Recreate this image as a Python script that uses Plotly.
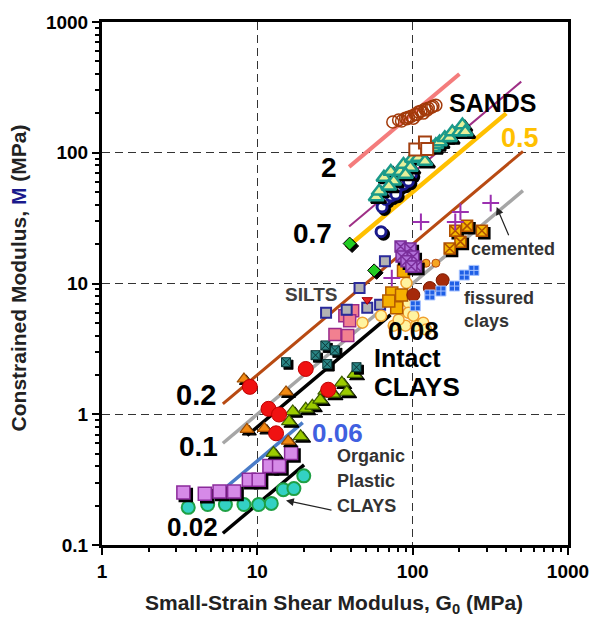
import math
import plotly.graph_objects as go

# ---------------- data ----------------
line_labels = ["2", "0.7", "0.5", "0.2", "0.1", "0.08", "0.06", "0.02"]
line_ratio = [2.0, 0.7, 0.5, 0.2, 0.1, 0.08, 0.044, 0.0205]
line_g0_start = [39, 39, 37.5, 6.0, 6.0, 8.6, 4.4, 6.0]
line_g0_end = [200, 500, 400, 513, 513, 72, 19.6, 20]

sand_g0 = [74.5, 81.2, 84.8, 89.9, 93.9, 98.1, 104, 109, 113, 120, 126, 132, 135, 141, 101, 117,
           92.0, 107, 124]
sand_m = [172, 178, 175, 184, 187, 190, 197, 205, 208, 215, 219, 223, 227, 231, 184, 201,
          182, 196, 212]

sandsq_g0 = [104, 120, 124]
sandsq_m = [106, 120, 107]

tealtri_g0 = [58.2, 60.8, 65.3, 72.3, 75.5, 83.6, 87.3, 96.7, 99.5, 109, 120, 135, 141, 149,
              161, 173, 180, 200, 209, 218, 70.2, 89.9]
tealtri_m = [45.8, 50.8, 64.8, 71.9, 60.5, 71.9, 81.3, 77.1, 90.2, 91.8, 85.6, 109, 115, 121,
             130, 130, 144, 144, 163, 144, 55.4, 68.3]

navy_g0 = [63.5, 67.3, 72.3, 77.8, 81.2, 87.3, 89.9, 98.1, 93.9, 62.6]
navy_m = [38.5, 44.0, 46.6, 48.2, 55.4, 57.4, 66.0, 68.3, 60.5, 24.9]

green_g0 = [39.3, 56.5]
green_m = [20.2, 12.6]

plus_g0 = [318, 113, 203, 188, 73.4]
plus_m = [41.2, 29.6, 35.3, 29.6, 11.0]

violetx_g0 = [83.6, 96.7, 101, 84.8, 91.2, 105, 98.1]
violetx_m = [19.2, 18.5, 16.1, 16.1, 14.8, 13.5, 13.5]

orangedot_g0 = [122, 141, 113]
orangedot_m = [14.3, 14.3, 13.8]

cemented_g0 = [188, 224, 279, 203, 173]
cemented_m = [25.3, 27.6, 25.3, 20.9, 18.5]

fissured_g0 = [248, 215, 186, 152, 129, 104]
fissured_m = [12.6, 11.6, 9.56, 8.76, 8.17, 6.75]

darkred_g0 = [156, 129, 101]
darkred_m = [10.6, 9.23, 8.17]

goldsq_g0 = [87.3, 73.4, 84.8, 78.9, 70.2]
goldsq_m = [12.4, 8.46, 8.17, 6.52, 7.36]

ltyel_g0 = [91.2, 93.9, 93.9, 89.9, 75.5, 62.6, 47.5, 105, 117, 122, 81.2, 101]
ltyel_m = [10.1, 7.11, 5.97, 4.76, 4.76, 5.67, 5.02, 4.76, 5.02, 4.44, 5.29, 5.67]

silt_g0 = [66.3, 45.5, 27.7, 37.6, 51.0, 61.7]
silt_m = [14.8, 9.23, 5.97, 6.30, 6.52, 6.87]

pink_g0 = [41.1, 36.6, 39.3, 31.6, 38.2]
pink_m = [6.19, 5.67, 5.20, 4.07, 4.00]

redtri_g0 = [51.0]
redtri_m = [7.49]

tealx_g0 = [15.3, 23.7, 27.4, 28.2, 43.5, 31.6]
tealx_m = [2.50, 2.83, 3.36, 2.42, 2.29, 3.08]

red_g0 = [8.95, 11.8, 13.8, 13.2, 20.5, 28.6]
red_m = [1.62, 1.10, 0.995, 0.715, 2.22, 1.54]

orangetri_g0 = [8.20, 15.3, 8.57, 11.1, 15.8]
orangetri_m = [1.86, 1.48, 0.766, 0.780, 0.622]

ygtri_g0 = [16.9, 20.5, 22.6, 25.4, 27.4, 30.7, 35.0, 37.6, 42.3, 16.0, 19.0, 12.7]
ygtri_m = [1.05, 1.10, 1.16, 1.29, 1.51, 1.43, 1.74, 1.48, 2.03, 0.881, 0.678, 0.505]

orgsq_g0 = [3.34, 4.59, 5.71, 7.09, 8.82, 10.2, 11.96, 13.8, 16.5]
orgsq_m = [0.252, 0.247, 0.256, 0.256, 0.315, 0.315, 0.402, 0.402, 0.505]

orgci_g0 = [3.59, 4.79, 6.23, 8.20, 10.2, 12.3, 14.7, 17.2, 19.9]
orgci_m = [0.194, 0.204, 0.204, 0.204, 0.204, 0.208, 0.265, 0.270, 0.338]

x_tick_vals = [1, 10, 100, 1000]
x_tick_text = ["1", "10", "100", "1000"]
y_tick_vals = [0.1, 1, 10, 100, 1000]
y_tick_text = ["0.1", "1", "10", "100", "1000"]

# ---------------- styling ----------------
FONT = "Arial, Liberation Sans, sans-serif"
line_colors = ["#f47c7c", "#9e2f86", "#ffc000", "#b84a12", "#a6a6a6", "#000000", "#4a7cc8", "#000000"]
line_widths = [4, 2, 4.5, 3, 3.5, 3.5, 3.5, 3.5]

# shadow offset (about 2.5 px right / 2.5 px down)
SHX = 10 ** (2.5 / 158.67)
SHY = 10 ** (2.5 / 132.3)

fig = go.Figure()

for lab, r, a, b, c, w in zip(line_labels, line_ratio, line_g0_start, line_g0_end, line_colors, line_widths):
    fig.add_trace(go.Scatter(x=[a, b], y=[r * a, r * b], mode="lines",
                             line=dict(color=c, width=w), name=lab, hoverinfo="skip"))


def pts(x, y, symbol, size, fill, lc, lw, shadow=False):
    if shadow:
        fig.add_trace(go.Scatter(x=[v * SHX for v in x], y=[v / SHY for v in y], mode="markers",
                                 marker=dict(symbol=symbol, size=size, color="black",
                                             line=dict(color="black", width=lw)),
                                 hoverinfo="skip"))
    fig.add_trace(go.Scatter(x=x, y=y, mode="markers",
                             marker=dict(symbol=symbol, size=size, color=fill,
                                         line=dict(color=lc, width=lw))))


pts(orgci_g0, orgci_m, "circle", 13, "#33d1c4", "#1fa045", 2)
pts(orgsq_g0, orgsq_m, "square", 13, "#d68ae8", "#8a2a9a", 1.5, shadow=True)
pts(ygtri_g0, ygtri_m, "triangle-up", 13, "#9ccc00", "#3d5c00", 1.2, shadow=True)
pts(orangetri_g0, orangetri_m, "triangle-up", 12, "#f28a12", "#9a4a00", 1.2, shadow=True)
pts(red_g0, red_m, "circle", 15, "#f01212", "#c00000", 1)
pts(tealx_g0, tealx_m, "square-x", 9, "#2a8585", "#0a3535", 1, shadow=True)
pts(pink_g0, pink_m, "square", 12, "#f28090", "#9a2a8a", 1.5)
pts(silt_g0, silt_m, "square", 10, "#b3b3b3", "#2a2a9a", 2)
pts(redtri_g0, redtri_m, "triangle-down", 9, "#e02020", "#a00000", 1)
pts(ltyel_g0, ltyel_m, "circle", 11, "#fff3a0", "#f0a030", 1.5)
pts(goldsq_g0, goldsq_m, "square", 12, "#f5b000", "#b35a00", 1.5)
pts(darkred_g0, darkred_m, "circle", 13, "#a52a0a", "#7a1a00", 1)
pts(fissured_g0, fissured_m, "square-cross", 10, "#1f5fe6", "#a8c4ff", 1)
pts(cemented_g0, cemented_m, "square-x", 11, "#f5b800", "#b05000", 1.5, shadow=True)
pts(orangedot_g0, orangedot_m, "circle", 8, "#f5a623", "#b5460f", 1)
pts(violetx_g0, violetx_m, "square-x", 11, "#b070d8", "#7a2d9a", 1.5, shadow=True)
pts(plus_g0, plus_m, "cross-thin", 12, "#9b30b0", "#9b30b0", 2)
pts(green_g0, green_m, "diamond", 10, "#22cc22", "#000000", 1, shadow=True)
pts(navy_g0, navy_m, "circle", 10, "#ffffff", "#1a1a8c", 3, shadow=True)
pts(tealtri_g0, tealtri_m, "triangle-up", 13, "#e6f09a", "#1a9a8a", 2.5, shadow=True)
pts(sandsq_g0, sandsq_m, "square", 12, "#ffffff", "#a34010", 2)
pts(sand_g0, sand_m, "circle-open", 12, "#a33a0a", "#a33a0a", 1.5)

L = math.log10


def txt(t, x, y, size, color="black", bold=True, xanchor="center"):
    fig.add_annotation(x=L(x), y=L(y), text=t, showarrow=False, xanchor=xanchor, yanchor="middle",
                       font=dict(family=FONT, size=size, color=color, weight="bold" if bold else "normal"))


txt("SANDS", 327, 239, 25)
txt("0.5", 491, 130, 27, "#ffc000")
txt("2", 29, 77, 28)
txt("0.7", 22.8, 24, 28)
txt("cemented", 444, 18.5, 18, "#333333")
txt("SILTS", 22.3, 8.2, 19, "#404040")
txt("fissured", 208, 7.8, 18, "#333333", xanchor="left")
txt("clays", 208, 5.2, 18, "#333333", xanchor="left")
txt("0.08", 101, 4.35, 26)
txt("Intact", 54.8, 2.70, 25, xanchor="left")
txt("CLAYS", 54.8, 1.62, 26, xanchor="left")
txt("0.2", 4.03, 1.41, 29)
txt("0.1", 4.15, 0.57, 28)
txt("0.06", 32.8, 0.725, 26, "#4060e0")
txt("Organic", 31.6, 0.48, 18, "#333333", xanchor="left")
txt("Plastic", 31.6, 0.31, 18, "#333333", xanchor="left")
txt("CLAYS", 31.6, 0.20, 18, "#333333", xanchor="left")
txt("0.02", 3.80, 0.137, 26)

# arrows
fig.add_annotation(x=L(347), y=L(38.5), ax=L(419), ay=L(22.8), xref="x", yref="y", axref="x", ayref="y",
                   text="", showarrow=True, arrowhead=2, arrowsize=1.3, arrowwidth=1.2, arrowcolor="#222222")
fig.add_annotation(x=L(15.3), y=L(0.219), ax=L(30.7), ay=L(0.184), xref="x", yref="y", axref="x", ayref="y",
                   text="", showarrow=True, arrowhead=2, arrowsize=1.3, arrowwidth=1.2, arrowcolor="#222222")

# axis titles
fig.add_annotation(xref="paper", yref="paper", x=-0.18, y=0.51, xanchor="center", yanchor="middle",
                   textangle=-90, showarrow=False,
                   text="Constrained Modulus, <span style='color:#1a1a8c'>M</span> (MPa)",
                   font=dict(family=FONT, size=21, color="#222222", weight="bold"))
fig.add_annotation(xref="paper", yref="paper", x=0.497, y=-0.113, xanchor="center", yanchor="middle",
                   showarrow=False,
                   text="Small-Strain Shear Modulus, G<sub>0</sub> (MPa)",
                   font=dict(family=FONT, size=21, color="#222222", weight="bold"))

minor_x = [m * 10 ** k for k in range(0, 3) for m in range(2, 10)]
minor_y = [m * 10 ** k for k in range(-1, 3) for m in range(2, 10)]

axis_common = dict(type="log", showline=True, linewidth=3, linecolor="black", mirror=True,
                   ticks="outside", ticklen=7, tickwidth=2, tickcolor="black",
                   showgrid=True, gridcolor="#333333", gridwidth=1.3, griddash="8px,5px",
                   zeroline=False,
                   tickfont=dict(family=FONT, size=19, color="black", weight="bold"))

fig.update_xaxes(range=[0, 3], tickvals=x_tick_vals, ticktext=x_tick_text,
                 minor=dict(tickvals=minor_x, ticks="outside", ticklen=4, tickwidth=1.5,
                            tickcolor="black", showgrid=False), **axis_common)
fig.update_yaxes(range=[-1, 3], tickvals=y_tick_vals, ticktext=y_tick_text,
                 minor=dict(tickvals=minor_y, ticks="outside", ticklen=4, tickwidth=1.5,
                            tickcolor="black", showgrid=False), **axis_common)

fig.update_layout(width=601, height=619, margin=dict(l=102, r=23, t=15, b=74),
                  paper_bgcolor="white", plot_bgcolor="white", showlegend=False)

fig.write_html("out.html")
